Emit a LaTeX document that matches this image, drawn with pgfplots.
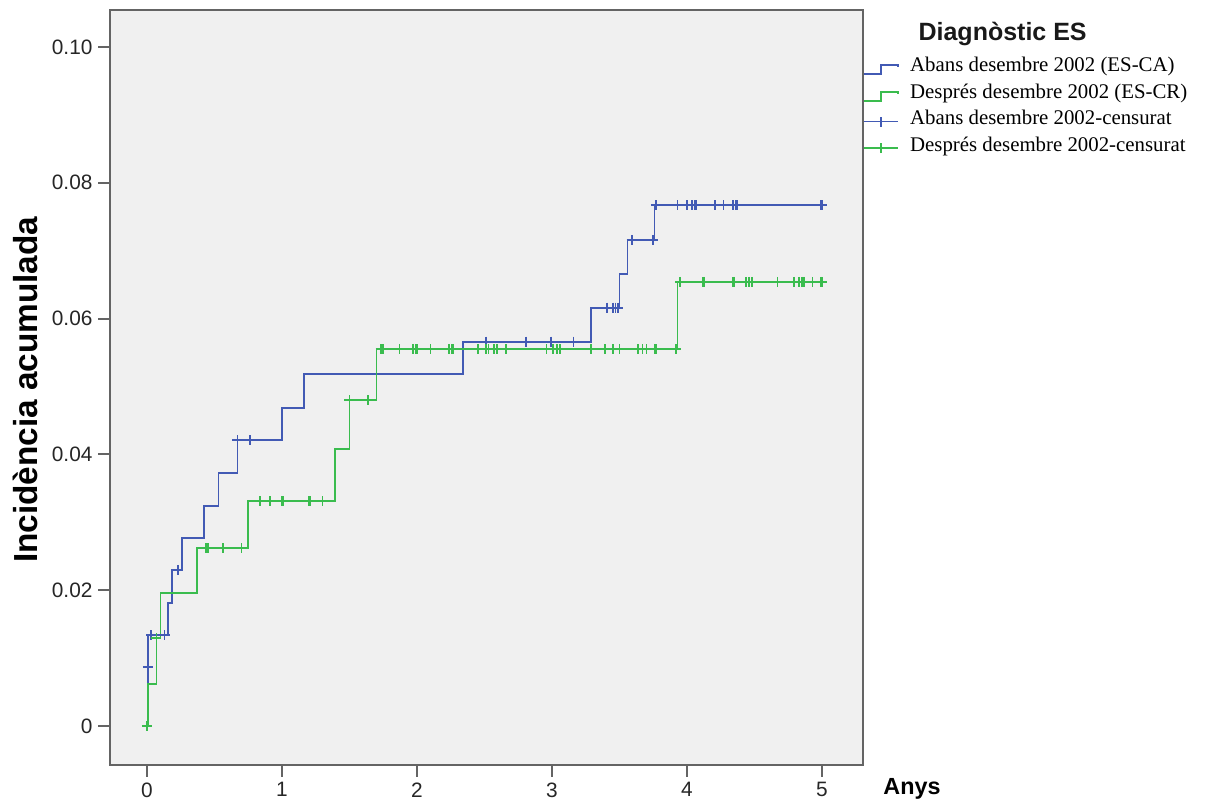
\documentclass[border=0pt]{standalone}
\usepackage{pgfplots}
\pgfplotsset{compat=1.18}
\usepackage{fontspec}
\setmainfont{Liberation Sans}
\newfontfamily\serif{Liberation Serif}
\definecolor{cblue}{RGB}{66,90,180}
\definecolor{cgreen}{RGB}{58,188,78}
\definecolor{bg}{RGB}{240,240,240}
\definecolor{frame}{RGB}{100,100,100}
\begin{document}
\begin{tikzpicture}
\begin{axis}[
  at={(66pt,22.8pt)}, anchor=south west,
  scale only axis, width=451.8pt, height=453pt,
  xmin=-0.274, xmax=5.304, ymin=-0.00574, ymax=0.10545,
  axis background/.style={fill=bg},
  axis line style={frame, line width=1.1pt},
  xtick={0,1,2,3,4,5}, xticklabels={0,1,2,3,4,5},
  ytick={0,0.02,0.04,0.06,0.08,0.10}, yticklabels={0,0.02,0.04,0.06,0.08,0.10},
  tick align=outside, xtick pos=bottom, ytick pos=left,
  major tick length=7pt,
  tick style={frame, line width=1.1pt},
  tick label style={font=\fontsize{12.5}{14}\selectfont, text=black!85},
  scaled y ticks=false,
  clip=false,
  ylabel={Incidència acumulada},
  ylabel style={at={(axis description cs:-0.112,0.497)}, anchor=center, font=\bfseries\fontsize{20}{23}\selectfont},
  xlabel={Anys},
  xlabel style={at={(axis description cs:1.065,-0.031)}, anchor=center, font=\bfseries\fontsize{14}{16}\selectfont},
  legend style={at={(axis description cs:1.0,0.941)}, anchor=north west, draw=none, fill=none,
    inner sep=0pt, row sep=0pt, font=\serif\fontsize{12.5}{15}\selectfont,
    nodes={inner sep=0pt, text height=10pt, text depth=6pt}},
  legend cell align=left,
]
\addplot[cblue, line width=1.1pt, const plot,
  legend image code/.code={\draw[cblue, line width=1.1pt] (0pt,-3.5pt)--(10.2pt,-3.5pt)--(10.2pt,1.8pt)--(20.4pt,1.8pt)--(20.4pt,0.5pt);\path (27pt,0pt);}]
  coordinates {(0,0) (0.005,0.0087) (0.01,0.0134) (0.155,0.0181) (0.185,0.0230) (0.26,0.0277) (0.42,0.0324) (0.53,0.0373) (0.67,0.0421) (1.0,0.0468) (1.16,0.0518) (2.34,0.0566) (3.29,0.0616) (3.50,0.0666) (3.56,0.0716) (3.76,0.0767) (5.0,0.0767)};
\addlegendentry{Abans desembre 2002 (ES-CA)}
\addplot[cgreen, line width=1.1pt, const plot,
  legend image code/.code={\draw[cgreen, line width=1.1pt] (0pt,-3.5pt)--(10.2pt,-3.5pt)--(10.2pt,1.8pt)--(20.4pt,1.8pt)--(20.4pt,0.5pt);\path (27pt,0pt);}]
  coordinates {(0,0) (0.005,0.0062) (0.07,0.0130) (0.10,0.0196) (0.37,0.0262) (0.75,0.0331) (1.39,0.0408) (1.50,0.0480) (1.70,0.0555) (3.93,0.0654) (5.0,0.0654)};
\addlegendentry{Després desembre 2002 (ES-CR)}
\addplot[cblue, only marks, mark=+, mark size=3pt, mark options={line width=1.1pt},
  legend image code/.code={\draw[cblue, line width=1.1pt] (0pt,0pt)--(20.4pt,0pt); \draw[cblue, line width=1.1pt] (10.2pt,-3pt)--(10.2pt,3pt);\path (27pt,0pt);}]
  coordinates {(0.007,0.0087) (0.03,0.0134) (0.13,0.0134) (0.23,0.0230) (0.67,0.0421) (0.76,0.0421) (2.51,0.0566) (2.81,0.0566) (2.99,0.0566) (3.16,0.0566) (3.41,0.0616) (3.45,0.0616) (3.47,0.0616) (3.49,0.0616) (3.59,0.0716) (3.75,0.0716) (3.77,0.0767) (3.93,0.0767) (4.0,0.0767) (4.04,0.0767) (4.06,0.0767) (4.07,0.0767) (4.21,0.0767) (4.27,0.0767) (4.34,0.0767) (4.36,0.0767) (4.37,0.0767) (4.99,0.0767) (5.0,0.0767)};
\addlegendentry{Abans desembre 2002-censurat}
\addplot[cgreen, only marks, mark=+, mark size=3pt, mark options={line width=1.1pt},
  legend image code/.code={\draw[cgreen, line width=1.1pt] (0pt,0pt)--(20.4pt,0pt); \draw[cgreen, line width=1.1pt] (10.2pt,-3pt)--(10.2pt,3pt);\path (27pt,0pt);}]
  coordinates {(0,0) (0.07,0.0130) (0.44,0.0262) (0.45,0.0262) (0.56,0.0262) (0.70,0.0262) (0.84,0.0331) (0.91,0.0331) (1.0,0.0331) (1.01,0.0331) (1.20,0.0331) (1.21,0.0331) (1.30,0.0331) (1.50,0.0480) (1.64,0.0480)
  (1.73,0.0555) (1.74,0.0555) (1.75,0.0555) (1.87,0.0555) (1.97,0.0555) (1.99,0.0555) (2.0,0.0555) (2.10,0.0555) (2.24,0.0555) (2.26,0.0555) (2.27,0.0555) (2.45,0.0555) (2.51,0.0555) (2.53,0.0555) (2.57,0.0555) (2.59,0.0555) (2.66,0.0555) (2.96,0.0555) (3.01,0.0555) (3.04,0.0555) (3.06,0.0555) (3.29,0.0555) (3.39,0.0555) (3.45,0.0555) (3.50,0.0555) (3.64,0.0555) (3.67,0.0555) (3.70,0.0555) (3.76,0.0555) (3.77,0.0555) (3.92,0.0555)
  (3.95,0.0654) (4.12,0.0654) (4.13,0.0654) (4.34,0.0654) (4.35,0.0654) (4.44,0.0654) (4.46,0.0654) (4.48,0.0654) (4.67,0.0654) (4.79,0.0654) (4.83,0.0654) (4.85,0.0654) (4.86,0.0654) (4.87,0.0654) (4.93,0.0654) (4.99,0.0654) (5.0,0.0654)};
\addlegendentry{Després desembre 2002-censurat}
\node[anchor=west, font=\bfseries\fontsize{15}{18}\selectfont, text=black!90] at (axis description cs:1.066,0.968) {Diagnòstic ES};
\end{axis}
\pgfresetboundingbox
\useasboundingbox (0,0) rectangle (733.2pt,481.8pt);
\end{tikzpicture}
\end{document}
